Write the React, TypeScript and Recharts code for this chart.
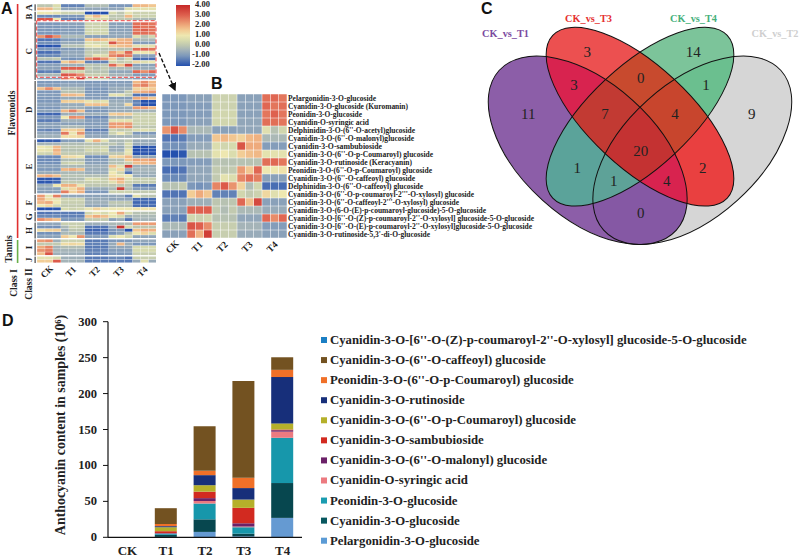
import { Bar, BarChart, Scatter, ScatterChart, XAxis, YAxis } from 'recharts'

const serif = '"Liberation Serif", serif'
const sans = '"Liberation Sans", sans-serif'

// ---- heatmap colours
const colorStops: [number, string][] = [
  [-2, '#2450ae'], [-1, '#7d98ba'], [-0.4, '#a5b4b8'], [0, '#bdc6b0'], [0.5, '#d6daae'], [1, '#eee7b0'],
  [1.5, '#f2cd96'], [2, '#eeaa7c'], [3, '#de604e'], [4, '#c62828'],
]

function hex(c: string) {
  return [1, 3, 5].map((i) => parseInt(c.slice(i, i + 2), 16))
}

function heatColor(v: number) {
  for (let i = 1; i < colorStops.length; i++) {
    if (v <= colorStops[i][0]) {
      const [v0, c0] = colorStops[i - 1]
      const [v1, c1] = colorStops[i]
      const t = Math.max(0, (v - v0) / (v1 - v0))
      const a = hex(c0)
      const b = hex(c1)
      return `rgb(${a.map((x, j) => Math.round(x + (b[j] - x) * t)).join(',')})`
    }
  }
  return colorStops[colorStops.length - 1][1]
}

const treatments = ['CK', 'T1', 'T2', 'T3', 'T4']
const groupTicks = [1.5, 4.5, 7.5, 10.5, 13.5]

// ---- panel B, also group C of panel A
const anthocyaninNames = [
  'Pelargonidin-3-O-glucoside',
  'Cyanidin-3-O-glucoside (Kuromanin)',
  'Peonidin-3-O-glucoside',
  'Cyanidin-O-syringic acid',
  "Delphinidin-3-O-(6''-O-acetyl)glucoside",
  "Cyanidin-3-O-(6''-O-malonyl)glucoside",
  'Cyanidin-3-O-sambubioside',
  "Cyanidin-3-O-(6''-O-p-Coumaroyl) glucoside",
  'Cyanidin-3-O-rutinoside (Keracyanin)',
  "Peonidin-3-O-(6''-O-p-Coumaroyl) glucoside",
  "Cyanidin-3-O-(6''-O-caffeoyl) glucoside",
  "Delphinidin-3-O-(6''-O-caffeoyl) glucoside",
  "Cyanidin-3-O-(6''-O-p-coumaroyl-2'''-O-xylosyl) glucoside",
  "Cyanidin-3-O-(6''-O-caffeoyl-2'''-O-xylosyl) glucoside",
  'Cyanidin-3-O-(6-O-(E)-p-coumaroyl-glucoside)-5-O-glucoside',
  "Cyanidin-3-O-[6''-O-(Z)-p-coumaroyl-2''-O-xylosyl] glucoside-5-O-glucoside",
  "Cyanidin-3-O-[6''-O-(E)-p-coumaroyl-2''-O-xylosyl]glucoside-5-O-glucoside",
  "Cyanidin-3-O-rutinoside-5,3'-di-O-glucoside",
]
// printed length of each row label, the scan's text is not evenly set
const anthocyaninLabelWidths = [88, 120, 74, 81, 127, 126, 94, 145, 124, 144, 127, 135, 186, 171, 198, 246, 244, 142]

const rowsC = [
  [-1, -1, -1, -0.8, -0.8, -0.8, 0.3, 0.3, 0.3, -0.8, -0.8, -0.8, 2.8, 2.9, 2.7],
  [-1, -1, -1, -0.9, -0.9, -0.9, 0.3, 0.3, 0.3, -0.8, -0.8, -0.8, 2.9, 2.7, 2.8],
  [-1, -1, -1, -0.9, -0.9, -0.9, 0.4, 0.4, 0.4, -0.8, -0.8, -0.8, 2.7, 3, 2.7],
  [-1, -1, -1, -0.8, -0.8, -0.8, 0.4, 0.4, 0.4, -0.7, -0.7, -0.7, 2.8, 2.8, 2.7],
  [2.3, 3.2, 2.4, -0.3, -0.3, -0.3, -0.8, -0.8, -0.8, -0.7, -0.7, -0.7, 0.7, -0.1, 0.4],
  [-1.5, -1.5, -1.4, -0.9, -0.9, -0.9, 1.6, 1.8, 1.6, 1.4, 1.8, 1.9, -0.3, -0.3, -0.3],
  [-1.1, -1.1, -1.1, -0.6, -0.6, -0.6, 0.6, 0.4, 0.5, 3.2, 2, 2, -0.9, -0.9, -0.9],
  [-2, -2, -1.9, -0.1, -0.1, -0.1, 0.8, 1, 0.6, 1.5, 1.7, 1.8, 0.8, 0.8, 0.8],
  [-1, -1, -1, -0.9, -0.9, -0.9, -0.1, -0.1, -0.1, -0.1, -0.1, -0.1, 2.8, 2.9, 2.7],
  [-1.6, -1.6, -1.5, -0.7, -0.7, -0.7, 0.1, 0, 0.1, 2.2, 1.6, 2.9, 1, 1, 1.1],
  [-1.2, -1.2, -1.2, -0.7, -0.7, -0.7, 0.1, 0.8, 0.6, 2.5, 2.8, 2.6, -0.8, -0.8, -0.8],
  [-0.1, -0.1, 0.1, -1, -1.1, -1, 2.5, 3.1, 2.3, 1.4, -0.2, 0.4, -1.6, -1.6, -1.6],
  [-1.5, -1.5, -1.5, 1.5, 2, 1.6, -1.3, -1.3, -1.3, 0.4, 0.1, 0.3, 1.3, 0.7, 1],
  [-0.8, -0.8, -0.8, -0.5, -0.5, -0.5, 0, -0.1, 0, 2.9, 1.7, 3.4, -0.8, -0.8, -0.8],
  [-0.8, -0.8, -0.8, 3, 3, 3, 0.1, -0.2, 0.1, -0.3, -0.3, -0.3, -0.6, -0.6, -0.6],
  [-1.4, -1.3, -1.4, 0.4, 0.3, 0.4, -0.1, -0.1, -0.1, -0.7, -0.7, -0.7, 2.9, 2.4, 2.9],
  [-0.3, -0.3, -0.3, 3.2, 3, 2.4, 0.2, 0.2, 0.2, -0.4, -0.4, -0.4, -0.9, -0.9, -0.9],
  [-0.8, -0.8, -0.8, 2.8, 1.9, 3.6, 0.2, 0.2, 0.2, -0.6, -0.6, -0.6, -0.8, -0.8, -0.8],
]

// ---- panel A, rows per group
const rowsA = [
  [0, 0, 0.6, -1.3, -1.3, -1.3, -0.2, -0.2, -0.2, -1, -1, -1, 1.8, 1.8, 1.6],
  [1.8, 1.8, 0.5, -0.7, -0.7, -0.7, -0.7, -0.7, -0.7, -0.7, -0.7, 0.6, 0.8, 0.8, 0.8],
]
const rowsB = [
  [1, 1, 0.8, 0.3, 0.3, 0.3, -2, -2, -2, 0.5, 0, 0.8, 0.3, 0.3, 0.3],
  [-1.2, -1.2, -1.2, -1, -1, -1, 1.2, 1.8, 1, 0, 0, 1.8, 0.3, 0.3, 0.3],
  [3.2, 3.2, 1, -1.3, -1.3, -1.3, 0.5, 0.5, 0.5, 0, 0, 0, -0.3, -0.3, -0.3],
]
const rowsD = [
  [-1, -1, -1, -0.9, -0.9, -0.9, -1, -1, -1, -0.9, -0.9, -0.9, 1.8, 2.4, 1.8],
  [-0.9, -0.9, -0.9, -0.7, -0.7, -0.7, -0.9, -0.9, -0.9, -0.8, -0.8, -0.8, 2.2, 2.6, 1.9],
  [1.7, 2.4, 1.7, -0.3, -0.3, -0.3, -1, -1, -1, -0.6, -0.6, -0.6, 1.4, 1.4, 1.5],
  [-1, -1, -1, -0.1, -0.1, -0.2, -1, -1, -1, -0.7, -0.6, 0.1, 1.8, 2, 2.2],
  [-0.9, -0.9, -0.9, 1.8, 1.8, 1.6, -0.9, -0.9, -0.9, 0.8, 0.8, 0.1, -1.5, -1.5, -1.5],
  [-1, -1, -1, -0.6, -0.6, -0.6, -0.9, -0.9, -0.9, -0.9, -0.9, -0.9, 2, 2, 1.6],
  [-1, -1, -1, 1.5, 1.4, 1.4, 0.9, 0.6, 0.8, -0.6, -0.6, -0.6, -1.3, -2, -2],
  [-0.8, -0.8, -0.8, -0.6, -0.6, -0.6, 1.6, 1.7, 1.6, -0.5, -0.5, 1.3, -1.3, -2, -2],
  [-1, -1, -1, -0.5, -0.5, -0.5, -0.8, -0.8, -0.8, -0.6, -0.6, -0.6, 2.2, 2.2, 1.8],
  [-0.8, -0.8, -0.8, 1.8, 2.6, 1.7, -1, -1, -1, -0.6, -0.6, -0.6, -0.4, -0.4, -0.4],
  [-1.7, -1.7, -1.7, -0.5, -0.5, -0.5, -0.5, -0.5, -0.5, 1.5, 1.6, 1.5, 0.3, 0.3, 0.3],
  [-1, -1, -1, 1, 2.4, 2.2, -1.2, -1.2, -1.2, -0.3, -0.3, -0.3, 0.3, 0.3, 0.3],
  [-1.4, -1.4, -1.3, -0.5, -0.5, -0.5, -0.9, -0.9, -0.9, 0.8, 0.8, 0.8, 0.3, 0.3, 0.3],
  [-0.8, -0.8, -0.8, -0.8, -0.8, -0.8, -0.9, -0.9, -0.9, 2.2, 2.2, 2.2, 0.3, 0.3, 0.3],
  [-0.8, -0.8, -0.8, -0.3, -0.3, -0.3, -0.8, -0.8, -0.8, 2.2, 2, 2.4, 0, 0, 0],
  [-1.2, -1.3, -1.2, 1.5, 1.4, 1.6, -1.3, -1.3, -1.3, 0.3, 0, 0.2, 0.6, 0.7, 0.5],
  [-0.7, -0.7, -0.7, 2.7, 0.9, 2.3, -0.9, -0.9, -0.9, 0.3, 1, 0.2, -1, -1, -1],
  [-0.5, -0.5, -0.5, 1.2, 1.2, 1.3, -0.7, -0.7, -0.7, -0.4, -0.4, -0.4, -0.5, -0.5, -0.5],
]
const rowsE = [
  [-1.9, -1.8, -1.8, -0.9, -0.8, -0.9, 0.8, 1.9, 0.7, -0.3, -0.3, 0, -0.6, -0.6, -0.6],
  [-0.4, -0.4, -0.4, -0.2, -0.2, -0.2, -0.1, -0.1, -0.1, 0, -0.3, 0.5, -0.6, -0.6, -0.6],
  [1, 0.8, 1.8, 0, 0, 0, 0.2, 0.2, 0.4, -0.6, -0.6, 0.3, -2, -2, -1.9],
  [0.9, 0.8, 1.9, -0.1, -0.1, -0.1, 0.4, 0.3, 0.5, -0.5, -0.5, 0.8, -2, -1.9, -1.9],
  [0.4, 0.3, 1.7, 0.1, 0.1, 0.1, 0, 0, 0, 0, 0, 0.8, -2, -1.9, -2],
  [-1.2, -1.2, -1.2, 1.3, 1.2, 1, -1.1, -1.1, -1.1, 1.3, 1.4, 1.8, -0.7, -0.7, -0.7],
  [-1.2, -1.2, -1.2, -0.2, -0.2, -0.2, -0.9, -0.9, -0.9, -0.2, -0.2, 1.6, 2.1, 2, 2.2],
  [-1.1, -1.1, -1.1, 0.2, 0.4, 0.3, -0.8, -0.8, -0.8, -0.1, -0.1, 0.2, 1.7, 1.8, 1.9],
  [-0.8, -0.8, -0.8, -0.3, -0.3, -0.3, -0.5, -0.5, -0.5, 1.7, 0.7, 3.6, -0.5, -0.5, -0.5],
  [-1, -1, -1, 1.8, 2, 1.7, -0.6, -0.6, -0.6, 0.6, 1.3, -0.6, -0.4, -0.4, -0.4],
  [-0.6, -0.6, -0.6, -0.3, -0.3, -0.3, -0.6, -0.6, -0.6, 1, 0.3, -1.5, -0.5, -0.5, -0.5],
  [1.8, 2, 1.7, -0.1, -0.1, -0.1, -0.2, -0.2, -0.2, 1.2, 0.9, 1, -0.6, -0.6, -0.6],
  [-1.9, -1.9, -1.8, -0.2, -0.2, -0.2, 0.6, 0.5, 0.2, 1.6, 2, 0.6, 0.2, 0.2, 0.2],
  [-1.9, -1.9, -1.7, 0.1, 0.1, 0.1, 0.2, 0.2, 0.2, 0.7, 1.7, 0.3, 0.1, 0.1, 0.1],
  [-0.5, -0.5, 1, 1.9, 1.9, 0.9, 0, 0, 0, 0, 0, 0, -1.4, -1.4, -1.4],
  [-0.8, -0.8, -0.8, 0.7, 1.3, 1.9, -0.6, -0.6, -0.6, -0.3, 3.6, -0.2, -0.9, -0.9, -0.9],
  [-0.8, -0.8, -0.8, 2.6, 1.4, 1.9, -1, -1, -1, 0.3, 0.3, 0.3, 0.1, 0.1, 0.1],
]
const rowsF = [
  [2.2, 0.8, 2.6, -0.7, -0.7, -0.7, -0.8, -0.8, -0.8, -0.7, -0.6, -1.3, 0.8, 0, 0],
  [2, 1.2, 0.9, 0.3, 0.3, 0.3, -0.6, -0.6, -0.6, -0.7, -0.7, -0.7, -1.6, -1.6, -1.6],
  [1.8, 2, 1, 0.2, 0.2, 0.2, -0.5, -0.5, -0.5, 0, 0, 0, -1.7, -1.7, -1.7],
  [1, 1.3, 0.4, 0.1, 0.1, 0.1, -0.7, -0.7, -0.7, -0.2, -0.2, -0.2, -1.6, -1.6, -1.6],
  [-2, -2, -1.9, 0.5, 0.3, 0.4, 0.9, 1.4, 0.9, 1, 1, 1, 1.1, 1.1, 1.1],
]
const rowsG = [
  [-1.5, -1.5, -1.4, -1.4, -1.4, -1.4, 0.4, 0.8, 0.5, 1, 2, 0.5, -0.1, -0.1, -0.1],
  [-1.2, -1.2, -1.2, -1.3, -1.3, -1.3, 1.6, 2, 1.7, 0.8, 0.5, -0.5, -0.3, -0.3, -0.3],
  [2.4, 2, 1.7, -1, -1, -1, 0.1, 0.1, 0.1, -0.8, -0.5, -1.5, -0.4, -0.4, -0.4],
]
const rowsH = [
  [-0.7, -0.7, -0.7, 0.2, 0.2, 0.2, -0.5, -0.5, -0.5, -0.3, -0.3, -0.3, 2.2, 2.2, 2.2],
  [-1.1, -1.1, -1.1, -0.3, 0.3, 0.2, -1.5, -1.5, -1.5, -0.6, 3.8, 0.5, 0, 0, 0],
  [1.2, 1.4, 1.5, -0.5, 0, 0, -1.7, -1.7, -1.7, -1, -0.9, -2, 1.6, 2, 1.9],
  [-1.1, -1.1, -1.1, -0.3, -0.3, -0.3, -1.4, -1.4, -1.4, -1.1, -0.8, 0, 1, 1.4, 0.6],
  [-0.8, -0.8, -0.8, 1.5, 1, 2.3, -0.9, -0.9, -0.9, 0.6, 1, 0.4, -0.7, -0.7, -0.7],
]
const rowsI = [
  [2.2, 2.4, -0.5, 0.3, 0.3, 0.3, -1.4, -1.4, -1.4, -1, -1, -1, -0.7, -0.7, -0.7],
  [0.1, 0.1, 0.1, 1.2, 1.3, 1.2, -1.3, -1.3, -1.3, -0.6, 1.8, -0.5, -1, -1, -1],
  [2, 2.5, -0.4, -0.2, -0.2, -0.2, -1.4, -1.4, -1.4, -0.7, -0.7, -0.7, 0.5, 0.5, 0.5],
  [2.3, 2.6, -0.4, -0.4, -0.4, -0.4, -1.3, -1.3, -1.3, -0.9, -0.9, -0.9, 0.5, 0.5, 0.5],
  [1.7, 3.2, -0.5, -0.5, -0.5, -0.5, -1.3, -1.3, -1.3, -1, -1, -1, 0.2, 0.2, 0.2],
]
const rowsJ = [
  [0.8, 0.8, 0.5, -0.5, -0.5, -0.5, -1.4, -1.4, -1.4, -1.2, -1.2, -1.5, 0.2, 0.2, 0.2],
  [1.5, 1.5, 3.1, -0.4, -0.4, -0.4, -1.4, -1.4, -1.4, -1.4, -1.4, -1.4, -0.6, 0.7, -0.6],
]
const groupNames = ['A', 'B', 'C', 'D', 'E', 'F', 'G', 'H', 'I', 'J']
const groupRows = [rowsA, rowsB, rowsC, rowsD, rowsE, rowsF, rowsG, rowsH, rowsI, rowsJ]

const ROW_H = 3.19
const GROUP_GAP = 1.1

// group spans and flat cell list for panel A, in pixels from the top of the map
const groupSpans: { name: string; start: number; end: number }[] = []
const cellsA: { x: number; y: number; v: number }[] = []
let cursor = 0
groupRows.forEach((rows, g) => {
  const start = cursor
  rows.forEach((vals) => {
    vals.forEach((v, c) => cellsA.push({ x: c + 0.5, y: cursor + ROW_H / 2, v }))
    cursor += ROW_H
  })
  groupSpans.push({ name: groupNames[g], start, end: cursor })
  cursor += GROUP_GAP
})
const heightA = cursor - GROUP_GAP

const cellsB = rowsC.flatMap((vals, r) => vals.map((v, c) => ({ x: c + 0.5, y: r + 0.5, v })))

function Cell(w: number, h: number) {
  return (p: any) => (
    <rect x={p.cx - w / 2} y={p.cy - h / 2} width={w} height={h} fill={heatColor(p.payload.v)} />
  )
}

function RotTick(size: number, dy: number) {
  return (p: any) => (
    <text
      transform={`translate(${p.x},${p.y + dy}) rotate(-45)`}
      textAnchor="middle"
      fontFamily={serif}
      fontWeight="bold"
      fontSize={size}
      fill="#222"
    >
      {treatments[groupTicks.indexOf(p.payload.value)]}
    </text>
  )
}

function HeatmapA() {
  return (
    <div style={{ position: 'absolute', left: 36.5, top: 4.3 }}>
      <ScatterChart width={119.5} height={heightA + 24} margin={{ top: 0, right: 0, bottom: 0, left: 0 }}>
        <XAxis type="number" dataKey="x" domain={[0, 15]} ticks={groupTicks} interval={0} height={24}
          axisLine={false} tickLine={false} tick={RotTick(9, 3)} />
        <YAxis type="number" dataKey="y" domain={[0, heightA]} reversed hide />
        <Scatter data={cellsA} isAnimationActive={false} shape={Cell(7.7, 2.85)} />
      </ScatterChart>
    </div>
  )
}

function RowLabel(p: any) {
  const i = Math.floor(p.payload.value)
  return (
    <text x={p.x + 1} y={p.y + 2.5} fontFamily={serif} fontWeight="bold" fontSize={7.5} fill="#222"
      textLength={anthocyaninLabelWidths[i]} lengthAdjust="spacingAndGlyphs">
      {anthocyaninNames[i]}
    </text>
  )
}

const rowTicksB = anthocyaninNames.map((_, i) => i + 0.5)

function HeatmapB() {
  return (
    <div style={{ position: 'absolute', left: 161.7, top: 94.3 }}>
      <ScatterChart width={385} height={168} margin={{ top: 0, right: 0, bottom: 0, left: 0 }}>
        <XAxis type="number" dataKey="x" domain={[0, 15]} ticks={groupTicks} interval={0} height={24}
          axisLine={false} tickLine={false} tick={RotTick(9.5, 3)} />
        <YAxis type="number" dataKey="y" orientation="right" width={260} domain={[0, 18]} reversed ticks={rowTicksB}
          interval={0} axisLine={false} tickLine={false} tickMargin={0} tickSize={0} tick={RowLabel} />
        <Scatter data={cellsB} isAnimationActive={false} shape={Cell(7.8, 7.5)} />
      </ScatterChart>
    </div>
  )
}

// ---- panel C
const vennSets = [
  { name: 'CK_vs_T2', x: 222.3, y: 150.3 },
  { name: 'CK_vs_T1', x: 117.7, y: 150.3 },
  { name: 'CK_vs_T4', x: 170, y: 116.7 },
  { name: 'CK_vs_T3', x: 170, y: 116.7 },
]
const vennShape = [
  { rx: 119.3, ry: 67.3, angle: -42 },
  { rx: 119.3, ry: 67.3, angle: 42 },
  { rx: 119.3, ry: 50.7, angle: -43 },
  { rx: 119.3, ry: 50.7, angle: 43 },
]
// sets: indexes into vennSets; drawn smallest overlap first
const vennRegions = [
  { sets: [0], color: '#d6d6d6' },
  { sets: [1], color: '#8c5ea8' },
  { sets: [2], color: '#7cc49a' },
  { sets: [3], color: '#ec5050' },
  { sets: [0, 1], color: '#8558a4' },
  { sets: [0, 2], color: '#6bbf8f' },
  { sets: [0, 3], color: '#e94040' },
  { sets: [1, 2], color: '#5ba39a' },
  { sets: [1, 3], color: '#d8234f' },
  { sets: [2, 3], color: '#c84a2e' },
  { sets: [0, 1, 2], color: '#5ea298' },
  { sets: [0, 1, 3], color: '#d8234f' },
  { sets: [0, 2, 3], color: '#c8452d' },
  { sets: [1, 2, 3], color: '#c23a33' },
  { sets: [0, 1, 2, 3], color: '#c43232' },
]
const vennCounts = [3, 14, 3, 0, 1, 11, 7, 4, 9, 20, 1, 2, 1, 4, 0]
const vennCountX = [117.3, 223.3, 104, 170.7, 236, 58.3, 135, 205, 281.7, 170.7, 107.3, 232.7, 143.7, 196.7, 170.7]
const vennCountY = [51.7, 51.7, 85, 78.3, 85, 114.3, 114.3, 114.3, 114.3, 150.7, 167.7, 167.7, 181, 181, 213.3]
const vennCountRows = vennCounts.map((n, i) => ({ x: vennCountX[i], y: vennCountY[i], n }))
const vennLabels = [
  { text: 'CK_vs_T1', x: 505.5, y: 37, color: '#7b4aa0' },
  { text: 'CK_vs_T3', x: 588.5, y: 22, color: '#e53030' },
  { text: 'CK_vs_T4', x: 693.5, y: 22, color: '#45b07a' },
  { text: 'CK_vs_T2', x: 775, y: 37, color: '#cfcfcf' },
]

function VennClip(p: any) {
  const i = vennSets.findIndex((s) => s.name === p.payload.name)
  const s = vennShape[i]
  return (
    <clipPath id={`venn-${i}`}>
      <ellipse cx={p.cx} cy={p.cy} rx={s.rx} ry={s.ry} transform={`rotate(${s.angle} ${p.cx} ${p.cy})`} />
    </clipPath>
  )
}

function VennRegion(p: any) {
  let node = <rect x={0} y={0} width={330} height={290} fill={p.payload.color} />
  for (const i of p.payload.sets) node = <g clipPath={`url(#venn-${i})`}>{node}</g>
  return node
}

function VennOutline(p: any) {
  const s = vennShape[vennSets.findIndex((e) => e.name === p.payload.name)]
  return (
    <ellipse cx={p.cx} cy={p.cy} rx={s.rx} ry={s.ry} fill="none" stroke="#111" strokeWidth={1}
      transform={`rotate(${s.angle} ${p.cx} ${p.cy})`} />
  )
}

function VennCount(p: any) {
  return (
    <text x={p.cx} y={p.cy + 5} textAnchor="middle" fontFamily={serif} fontSize={15} fill="#222">
      {p.payload.n}
    </text>
  )
}

function Venn() {
  return (
    <div style={{ position: 'absolute', left: 470, top: 0 }}>
      <ScatterChart width={330} height={290} margin={{ top: 0, right: 0, bottom: 0, left: 0 }}>
        <XAxis type="number" dataKey="x" domain={[0, 330]} hide />
        <YAxis type="number" dataKey="y" domain={[0, 290]} reversed hide />
        <Scatter data={vennSets} isAnimationActive={false} shape={VennClip} />
        <Scatter data={vennRegions.map((r) => ({ ...r, x: 165, y: 145 }))} isAnimationActive={false} shape={VennRegion} />
        <Scatter data={vennSets} isAnimationActive={false} shape={VennOutline} />
        <Scatter data={vennCountRows} isAnimationActive={false} shape={VennCount} />
      </ScatterChart>
    </div>
  )
}

// ---- panel D
const stackNames = [
  'Pelargonidin-3-O-glucoside',
  'Cyanidin-3-O-glucoside',
  'Peonidin-3-O-glucoside',
  'Cyanidin-O-syringic acid',
  "Cyanidin-3-O-(6''-O-malonyl) glucoside",
  'Cyanidin-3-O-sambubioside',
  "Cyanidin-3-O-(6''-O-p-Coumaroyl) glucoside",
  'Cyanidin-3-O-rutinoside',
  "Peonidin-3-O-(6''-O-p-Coumaroyl) glucoside",
  "Cyanidin-3-O-(6''-O-caffeoyl) glucoside",
  "Cyanidin-3-O-[6''-O-(Z)-p-coumaroyl-2''-O-xylosyl] glucoside-5-O-glucoside",
]
const stackColors = ['#659ad2', '#07474f', '#1797ab', '#ec7a80', '#6b2168', '#d22a20', '#b5b02a', '#172f7a', '#f07028', '#735221', '#1b7fc4']
const legendColors = ['#5b9bd5', '#07575f', '#1a9cb0', '#ec7a80', '#6b2168', '#d22a20', '#b5b02a', '#172f7a', '#f07028', '#735221', '#1b7fc4']

const valuesCK = [0, 0, 0, 0, 0, 0, 0, 0, 0, 0, 0]
const valuesT1 = [0.5, 3, 1.5, 0.3, 0.7, 2.5, 5.5, 1.5, 3, 22, 0]
const valuesT2 = [7.5, 17.5, 22, 3.5, 4, 9, 9, 14, 6, 62, 0]
const valuesT3 = [1.5, 3.5, 9, 1, 4.5, 21.5, 11.5, 16, 14.5, 134.5, 0]
const valuesT4 = [27, 48.5, 63, 8.5, 2, 1, 8.5, 64.5, 10, 17.5, 0]
const stackValues = [valuesCK, valuesT1, valuesT2, valuesT3, valuesT4]

const barData = treatments.map((t, i) => {
  const row: Record<string, number | string> = { name: t }
  stackNames.forEach((n, j) => (row[n] = stackValues[i][j]))
  return row
})

function YTick(p: any) {
  return (
    <g>
      <line x1={p.x + 3} x2={p.x + 8} y1={p.y} y2={p.y} stroke="#111" strokeWidth={1} />
      <text x={p.x - 3} y={p.y + 4} textAnchor="end" fontFamily={serif} fontWeight="bold" fontSize={12.5} fill="#222">
        {p.payload.value}
      </text>
    </g>
  )
}

function StackedBars() {
  return (
    <div style={{ position: 'absolute', left: 0, top: 300 }}>
      <BarChart width={302} height={258} data={barData} barSize={22}
        margin={{ top: 21.7, right: 0, bottom: 0.7, left: 58 }}>
        <XAxis dataKey="name" height={20} tickLine={false} axisLine={{ stroke: '#111', strokeWidth: 1.2 }}
          tick={{ fontFamily: serif, fontWeight: 'bold', fontSize: 13, fill: '#222' }} />
        <YAxis type="number" domain={[0, 300]} ticks={[0, 50, 100, 150, 200, 250, 300]} width={50}
          tickLine={false} axisLine={{ stroke: '#111', strokeWidth: 1.2 }} tick={YTick} />
        {stackNames.map((n, i) => (
          <Bar key={n} dataKey={n} stackId="a" fill={stackColors[i]} isAnimationActive={false} />
        ))}
      </BarChart>
    </div>
  )
}

// ---- legend, colour bar and the drawn notes around the panels
const colorBarTicks = ['4.00', '3.00', '2.00', '1.00', '0.00', '-1.00', '-2.00']
const bold = { fontFamily: serif, fontWeight: 'bold' as const, fill: '#222' }

function Notes() {
  const top = 4.3
  return (
    <svg width={800} height={558} style={{ position: 'absolute', left: 0, top: 0, pointerEvents: 'none' }}>
      <defs>
        <linearGradient id="bar" x1="0" y1="1" x2="0" y2="0">
          {colorStops.map(([v, c]) => (
            <stop key={v} offset={(v + 2) / 6} stopColor={c} />
          ))}
        </linearGradient>
        <marker id="head" markerWidth="6" markerHeight="6" refX="5" refY="3" orient="auto">
          <path d="M0,0 L6,3 L0,6 Z" fill="#111" />
        </marker>
      </defs>

      <g fontFamily={sans} fontWeight="bold" fontSize={16} fill="#111">
        <text x={1} y={14}>A</text>
        <text x={211} y={89}>B</text>
        <text x={481} y={14}>C</text>
        <text x={2} y={326}>D</text>
      </g>

      <rect x={16.8} y={4} width={1.6} height={234} fill="#e03030" />
      <rect x={16.8} y={240} width={1.6} height={23} fill="#6ab04a" />
      {groupSpans.map((g) => (
        <g key={g.name}>
          <rect x={34.6} y={top + g.start} width={1} height={g.end - g.start} fill="#222" />
          <text transform={`translate(32,${top + (g.start + g.end) / 2}) rotate(-90)`} textAnchor="middle" {...bold} fontSize={9}>
            {g.name}
          </text>
        </g>
      ))}
      <text transform="translate(15,113) rotate(-90)" textAnchor="middle" {...bold} fontSize={9.6}>Flavonoids</text>
      <text transform="translate(12,249) rotate(-90)" textAnchor="middle" {...bold} fontSize={9.6}>Tannis</text>
      <text transform="translate(17,283) rotate(-90)" textAnchor="middle" {...bold} fontSize={9.5}>Class I</text>
      <text transform="translate(32,284) rotate(-90)" textAnchor="middle" {...bold} fontSize={9.5}>Class II</text>

      <rect x={36.7} y={20.7} width={119.3} height={56.6} fill="none" stroke="#fff" strokeWidth={1} />
      <rect x={36.7} y={20.7} width={119.3} height={56.6} fill="none" stroke="#ee4444" strokeWidth={1} strokeDasharray="4 2" />
      <line x1={159} y1={53} x2={175} y2={90} stroke="#111" strokeWidth={1.4} strokeDasharray="4 2" markerEnd="url(#head)" />

      <rect x={176} y={5} width={14} height={61} fill="url(#bar)" />
      {colorBarTicks.map((t, i) => (
        <text key={t} x={192 + (t[0] === '-' ? 0 : 3)} y={6.5 + i * 10.15} {...bold} fontSize={8.5}>{t}</text>
      ))}

      {vennLabels.map((l) => (
        <text key={l.text} x={l.x} y={l.y} textAnchor="middle" fontFamily={serif} fontWeight="bold" fontSize={10.3} fill={l.color}>
          {l.text}
        </text>
      ))}

      <text transform="translate(65,425) rotate(-90)" textAnchor="middle" {...bold} fontSize={13.9}>
        Anthocyanin content in samples (10⁶)
      </text>

      {stackNames.map((_, i) => {
        const j = stackNames.length - 1 - i
        const y = 340 + i * 20.07
        return (
          <g key={i}>
            <rect x={321} y={y - 3} width={6} height={6} fill={legendColors[j]} />
            <text x={330} y={y + 4} {...bold} fontSize={12.75}>{stackNames[j]}</text>
          </g>
        )
      })}
    </svg>
  )
}

export default function App() {
  return (
    <div style={{ position: 'absolute', left: 0, top: 0, width: 800, height: 558, overflow: 'hidden', background: '#fff' }}>
      <HeatmapA />
      <HeatmapB />
      <Venn />
      <StackedBars />
      <Notes />
    </div>
  )
}
